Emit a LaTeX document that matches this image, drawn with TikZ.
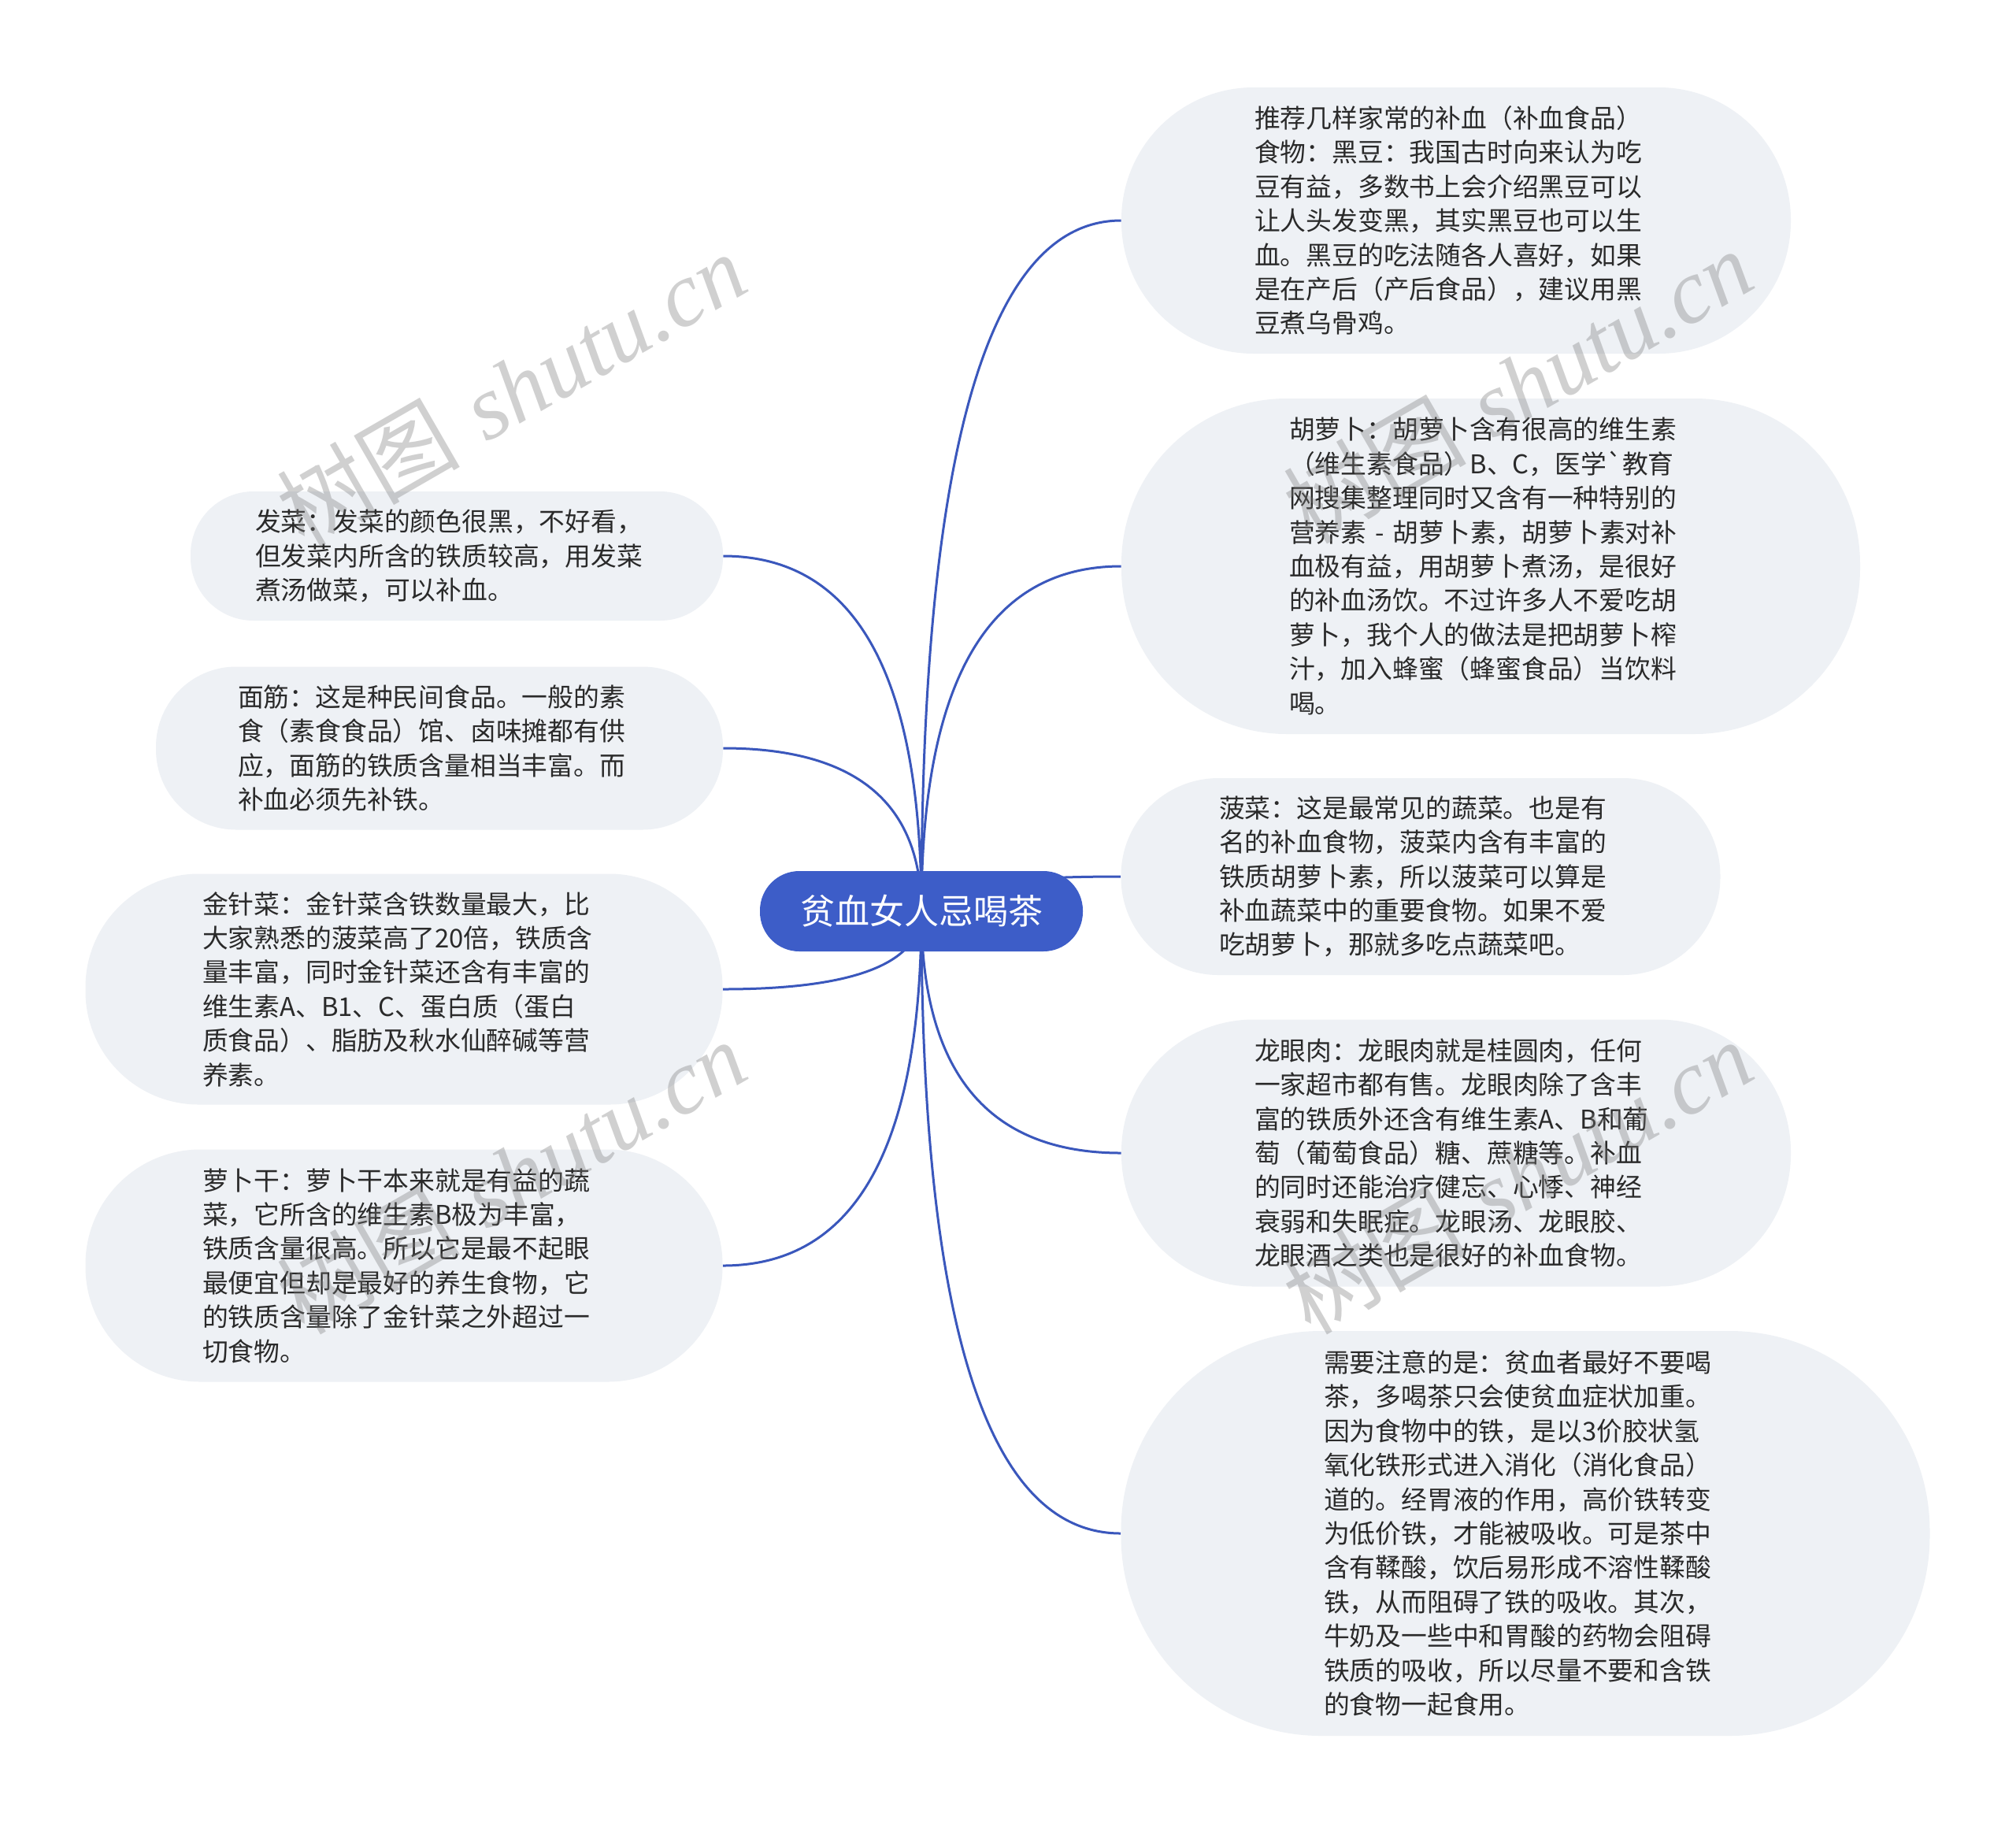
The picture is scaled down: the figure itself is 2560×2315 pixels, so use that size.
\documentclass[tikz,border=0pt]{standalone}
\usepackage{fontspec}
\newfontfamily\cjk{Noto Sans CJK SC}
\newfontfamily\wmlatin{Liberation Serif}
\usetikzlibrary{calc,backgrounds}
\definecolor{rootblue}{HTML}{3D5DC8}
\definecolor{linkblue}{HTML}{3A57BC}
\definecolor{leafbg}{HTML}{EEF1F5}
\definecolor{leaftext}{HTML}{2A2A2A}
\definecolor{wmgray}{HTML}{7A7A7A}
\begin{document}
\begin{tikzpicture}[x=0.5pt,y=-0.5pt,
  leaf/.style={fill=leafbg, text=leaftext, font=\cjk\fontsize{16.4pt}{21.7pt}\selectfont, align=left, text width=256pt, inner sep=0pt},
  rootnode/.style={fill=rootblue, text=white, font=\cjk\fontsize{22pt}{26pt}\selectfont, rounded corners=25pt, minimum width=205pt, minimum height=51pt, inner sep=0pt},
  link/.style={draw=linkblue, line width=1.5pt},
  wm/.style={text=wmgray, opacity=0.35, rotate=30, inner sep=0pt, font=\fontsize{58pt}{60pt}\selectfont}]
\useasboundingbox (0,0) rectangle (2560,2315);

\node[rootnode] (root) at (1170,1157) {贫血女人忌喝茶};

\node[leaf, minimum width=425pt, minimum height=169pt, rounded corners=84pt] (tj) at (1849,280) {推荐几样家常的补血（补血食品）\\食物：黑豆：我国古时向来认为吃\\豆有益，多数书上会介绍黑豆可以\\让人头发变黑，其实黑豆也可以生\\血。黑豆的吃法随各人喜好，如果\\是在产后（产后食品），建议用黑\\豆煮乌骨鸡。};

\node[leaf, minimum width=469pt, minimum height=213pt, rounded corners=105pt] (hlb) at (1893,719) {胡萝卜：胡萝卜含有很高的维生素\\（维生素食品）B、C，医学`教育\\网搜集整理同时又含有一种特别的\\营养素 - 胡萝卜素，胡萝卜素对补\\血极有益，用胡萝卜煮汤，是很好\\的补血汤饮。不过许多人不爱吃胡\\萝卜，我个人的做法是把胡萝卜榨\\汁，加入蜂蜜（蜂蜜食品）当饮料\\喝。};

\node[leaf, minimum width=380.5pt, minimum height=125pt, rounded corners=62pt] (bc) at (1804,1113) {菠菜：这是最常见的蔬菜。也是有\\名的补血食物，菠菜内含有丰富的\\铁质胡萝卜素，所以菠菜可以算是\\补血蔬菜中的重要食物。如果不爱\\吃胡萝卜，那就多吃点蔬菜吧。};

\node[leaf, minimum width=425pt, minimum height=169.5pt, rounded corners=84pt] (lyr) at (1849,1464) {龙眼肉：龙眼肉就是桂圆肉，任何\\一家超市都有售。龙眼肉除了含丰\\富的铁质外还含有维生素A、B和葡\\萄（葡萄食品）糖、蔗糖等。补血\\的同时还能治疗健忘、心悸、神经\\衰弱和失眠症。龙眼汤、龙眼胶、\\龙眼酒之类也是很好的补血食物。};

\node[leaf, minimum width=513.5pt, minimum height=257pt, rounded corners=127pt] (zy) at (1937,1947) {需要注意的是：贫血者最好不要喝\\茶，多喝茶只会使贫血症状加重。\\因为食物中的铁，是以3价胶状氢\\氧化铁形式进入消化（消化食品）\\道的。经胃液的作用，高价铁转变\\为低价铁，才能被吸收。可是茶中\\含有鞣酸，饮后易形成不溶性鞣酸\\铁，从而阻碍了铁的吸收。其次，\\牛奶及一些中和胃酸的药物会阻碍\\铁质的吸收，所以尽量不要和含铁\\的食物一起食用。};

\node[leaf, minimum width=338pt, minimum height=82pt, rounded corners=40pt] (fc) at (580,706) {发菜：发菜的颜色很黑，不好看，\\但发菜内所含的铁质较高，用发菜\\煮汤做菜，可以补血。};

\node[leaf, minimum width=360pt, minimum height=103.5pt, rounded corners=51pt] (mj) at (558,950) {面筋：这是种民间食品。一般的素\\食（素食食品）馆、卤味摊都有供\\应，面筋的铁质含量相当丰富。而\\补血必须先补铁。};

\node[leaf, minimum width=404.5pt, minimum height=146.5pt, rounded corners=72pt] (jzc) at (513,1256) {金针菜：金针菜含铁数量最大，比\\大家熟悉的菠菜高了20倍，铁质含\\量丰富，同时金针菜还含有丰富的\\维生素A、B1、C、蛋白质（蛋白\\质食品）、脂肪及秋水仙醉碱等营\\养素。};

\node[leaf, minimum width=404.5pt, minimum height=147.5pt, rounded corners=73pt] (lbg) at (513,1607) {萝卜干：萝卜干本来就是有益的蔬\\菜，它所含的维生素B极为丰富，\\铁质含量很高。所以它是最不起眼\\最便宜但却是最好的养生食物，它\\的铁质含量除了金针菜之外超过一\\切食物。};

\begin{scope}[on background layer]
\fill[white] (0,0) rectangle (2560,2315);
\foreach \n/\a in {tj/west, hlb/west, bc/west, lyr/west, zy/west, fc/east, mj/east, jzc/east, lbg/east}{
  \coordinate (k\n) at (root.center |- \n.\a);
  \draw[link] (root.center) .. controls ($(root.center)!0.6667!(k\n)$) and ($(\n.\a)!0.6667!(k\n)$) .. (\n.\a);
}
\end{scope}

\node[wm] (wm1) at (649,494) {{\cjk 树图} {\wmlatin\itshape shutu.cn}};
\node[wm] (wm2) at (1927,490) {{\cjk 树图} {\wmlatin\itshape shutu.cn}};
\node[wm] (wm3) at (649,1494) {{\cjk 树图} {\wmlatin\itshape shutu.cn}};
\node[wm] (wm4) at (1927,1494) {{\cjk 树图} {\wmlatin\itshape shutu.cn}};
\end{tikzpicture}
\end{document}
